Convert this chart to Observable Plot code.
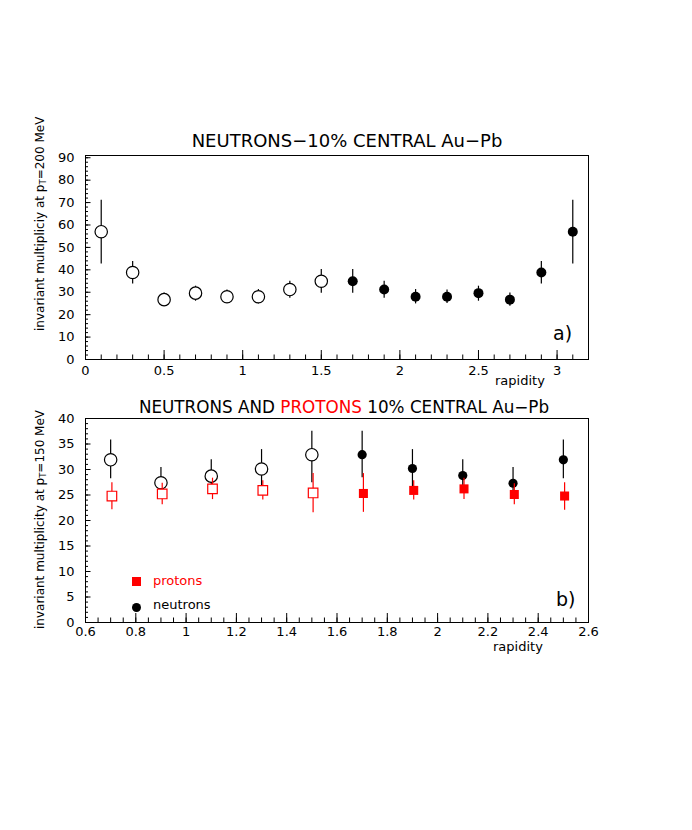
<!DOCTYPE html>
<html>
<head>
<meta charset="utf-8">
<script src="https://cdn.jsdelivr.net/npm/d3@7"></script>
<script src="https://cdn.jsdelivr.net/npm/@observablehq/plot@0.6"></script>
<style>
  body { margin: 0; background: #fff; }
  #wrap { position: relative; width: 692px; height: 830px; background: #fff; font-family: "DejaVu Sans", sans-serif; color: #000; }
  .abs { position: absolute; white-space: nowrap; }
  .plot { position: absolute; left: 0; }
  .ylab { position: absolute; white-space: nowrap; font-size: 12px; transform-origin: 0 0; transform: rotate(-90deg); }
  sub { font-size: 8.5px; vertical-align: -2px; }
</style>
</head>
<body>
<div id="wrap"></div>
<script>
// ---------- Panel a) data ----------
const rapidityA = [0.1, 0.3, 0.5, 0.7, 0.9, 1.1, 1.3, 1.5, 1.7, 1.9, 2.1, 2.3, 2.5, 2.7, 2.9, 3.1];
const multA     = [57, 38.8, 26.7, 29.6, 28, 28, 31.2, 34.9, 34.9, 31.2, 28, 28, 29.6, 26.7, 38.8, 57];
const lowA      = [42.6, 33.7, 23.8, 26, 25, 24.8, 27.3, 29.6, 29.6, 27.3, 24.8, 25, 26, 23.8, 33.7, 42.6];
const highA     = [71, 43.7, 29.7, 32.7, 31, 31.2, 34.9, 40.1, 40.1, 34.9, 31.2, 31, 32.7, 29.7, 43.7, 71];
const styleA    = ["open","open","open","open","open","open","open","open","filled","filled","filled","filled","filled","filled","filled","filled"];
const xTicksA   = [0, 0.5, 1, 1.5, 2, 2.5, 3];
const yTicksA   = [0, 10, 20, 30, 40, 50, 60, 70, 80, 90];

// ---------- Panel b) data ----------
const rapidityN = [0.7, 0.9, 1.1, 1.3, 1.5, 1.7, 1.9, 2.1, 2.3, 2.5];
const multN     = [31.9, 27.4, 28.7, 30.1, 32.9, 32.9, 30.2, 28.8, 27.3, 31.9];
const lowN      = [28.2, 24.4, 25.7, 26.1, 27.4, 28.4, 25.5, 25.5, 24.4, 28.2];
const highN     = [35.8, 30.4, 31.9, 33.9, 37.5, 37.5, 33.9, 31.9, 30.4, 35.8];
const rapidityP = [0.705, 0.905, 1.105, 1.305, 1.505, 1.705, 1.905, 2.105, 2.305, 2.505];
const multP     = [24.8, 25.2, 26.2, 25.9, 25.4, 25.3, 25.9, 26.2, 25.1, 24.8];
const lowP      = [22.1, 23.1, 24.1, 24.0, 21.5, 21.6, 24.0, 24.1, 23.1, 22.0];
const highP     = [27.4, 27.3, 28.3, 27.8, 29.2, 29.2, 27.8, 28.3, 27.2, 27.4];
const styleB    = ["open","open","open","open","open","filled","filled","filled","filled","filled"];
const xTicksB   = [0.6, 0.8, 1, 1.2, 1.4, 1.6, 1.8, 2, 2.2, 2.4, 2.6];
const yTicksB   = [0, 5, 10, 15, 20, 25, 30, 35, 40];

const round = v => Math.round(v * 1000) / 1000;
const range = (a, b, s) => d3.range(Math.round((b - a) / s) + 1).map(i => round(a + i * s));

const rowsA = rapidityA.map((x, i) => ({x, y: multA[i], lo: lowA[i], hi: highA[i], s: styleA[i]}));
const rowsN = rapidityN.map((x, i) => ({x, y: multN[i], lo: lowN[i], hi: highN[i], s: styleB[i]}));
const rowsP = rapidityP.map((x, i) => ({x, y: multP[i], lo: lowP[i], hi: highP[i], s: styleB[i]}));

const W = 692;
const fontStyle = {fontFamily: "DejaVu Sans, sans-serif", fontSize: "13px", background: "transparent", color: "#000", overflow: "visible"};

function panel({height, mt, mb, xDomain, yDomain, xMajor, xMinor, yMajor, yMinor, xPad, marks}) {
  const ml = 85, mr = 104;
  const fw = W - ml - mr, fh = height - mt - mb;
  return Plot.plot({
    width: W, height,
    marginTop: mt, marginBottom: mb, marginLeft: ml, marginRight: mr,
    style: fontStyle,
    x: {domain: xDomain},
    y: {domain: yDomain},
    marks: [
      Plot.tickX(xMinor, {x: d => d, stroke: "#000", strokeWidth: 1, insetTop: fh - 4.5}),
      Plot.tickX(xMajor, {x: d => d, stroke: "#000", strokeWidth: 1, insetTop: fh - 9}),
      Plot.tickY(yMinor, {y: d => d, stroke: "#000", strokeWidth: 1, insetRight: fw - 3}),
      Plot.tickY(yMajor, {y: d => d, stroke: "#000", strokeWidth: 1, insetRight: fw - 5.5}),
      Plot.axisX({ticks: xMajor, tickSize: 0, tickPadding: xPad, tickFormat: d => String(d), label: null}),
      Plot.axisY({ticks: yMajor, tickSize: 0, tickPadding: 11, tickFormat: d => String(d), label: null}),
      ...marks,
      Plot.frame({stroke: "#000", strokeWidth: 1})
    ]
  });
}

const wrap = document.getElementById("wrap");

// Panel a
const plotA = panel({
  height: 400, mt: 155, mb: 41,
  xDomain: [0, 3.2], yDomain: [0, 91],
  xMajor: xTicksA, xMinor: range(0, 3.2, 0.1),
  yMajor: yTicksA, yMinor: range(0, 90, 2),
  xPad: 6,
  marks: [
    Plot.ruleX(rowsA, {x: "x", y1: "lo", y2: "hi", stroke: "#000", strokeWidth: 1.2}),
    Plot.dot(rowsA.filter(d => d.s === "open"), {x: "x", y: "y", r: 6.2, fill: "#fff", stroke: "#000", strokeWidth: 1.2}),
    Plot.dot(rowsA.filter(d => d.s === "filled"), {x: "x", y: "y", r: 5, fill: "#000", stroke: "none"})
  ]
});
plotA.classList.add("plot");
plotA.style.top = "0px";
wrap.appendChild(plotA);

// Panel b
const plotB = panel({
  height: 260, mt: 18, mb: 38,
  xDomain: [0.6, 2.6], yDomain: [0, 40],
  xMajor: xTicksB, xMinor: range(0.6, 2.6, 0.05),
  yMajor: yTicksB, yMinor: range(0, 40, 1),
  xPad: 4,
  marks: [
    Plot.ruleX(rowsN, {x: "x", y1: "lo", y2: "hi", stroke: "#000", strokeWidth: 1.2}),
    Plot.dot(rowsN.filter(d => d.s === "open"), {x: "x", y: "y", r: 6.2, fill: "#fff", stroke: "#000", strokeWidth: 1.2}),
    Plot.dot(rowsN.filter(d => d.s === "filled"), {x: "x", y: "y", r: 4.6, fill: "#000", stroke: "none"}),
    Plot.ruleX(rowsP, {x: "x", y1: "lo", y2: "hi", stroke: "#ff0000", strokeWidth: 1.2}),
    Plot.dot(rowsP.filter(d => d.s === "open"), {x: "x", y: "y", symbol: "square", r: 5.4, fill: "#fff", stroke: "#ff0000", strokeWidth: 1.2}),
    Plot.dot(rowsP.filter(d => d.s === "filled"), {x: "x", y: "y", symbol: "square", r: 5.1, fill: "#ff0000", stroke: "none"})
  ]
});
plotB.classList.add("plot");
plotB.style.top = "400px";
wrap.appendChild(plotB);

// ---------- Text overlays ----------
function addDiv(html, css, cls = "abs") {
  const d = document.createElement("div");
  d.className = cls;
  d.innerHTML = html;
  Object.assign(d.style, css);
  wrap.appendChild(d);
  return d;
}

addDiv("NEUTRONS\u221210% CENTRAL Au\u2212Pb", {left: "0px", width: W + "px", textAlign: "center", top: "131px", fontSize: "18px", lineHeight: "20px", paddingLeft: "2px", boxSizing: "border-box"});
addDiv('NEUTRONS AND <span style="color:#ff0000">PROTONS</span> 10% CENTRAL Au\u2212Pb', {left: "0px", width: W + "px", textAlign: "center", top: "397px", fontSize: "16.8px", lineHeight: "20px", paddingRight: "4px", boxSizing: "border-box"});

// y labels (rotated)
addDiv("invariant multipliciy at p<sub>T</sub>=200 MeV", {left: "33px", top: "331px"}, "ylab");
addDiv("invariant multiplicity at p<sub>T</sub>=150 MeV", {left: "33px", top: "629px"}, "ylab");

addDiv("rapidity", {left: "495px", top: "374px", fontSize: "13px", lineHeight: "14px"});
addDiv("rapidity", {left: "493px", top: "640px", fontSize: "13px", lineHeight: "14px"});
addDiv("a)", {left: "553px", top: "322px", fontSize: "19px"});
addDiv("b)", {left: "556px", top: "588px", fontSize: "19px"});

// legend
addDiv("", {left: "132px", top: "577px", width: "9px", height: "9px", background: "#ff0000"});
addDiv("protons", {left: "153px", top: "573px", fontSize: "13px", color: "#ff0000"});
addDiv("", {left: "131.5px", top: "602.5px", width: "9px", height: "9px", borderRadius: "50%", background: "#000"});
addDiv("neutrons", {left: "153px", top: "597px", fontSize: "13px"});
</script>
</body>
</html>
